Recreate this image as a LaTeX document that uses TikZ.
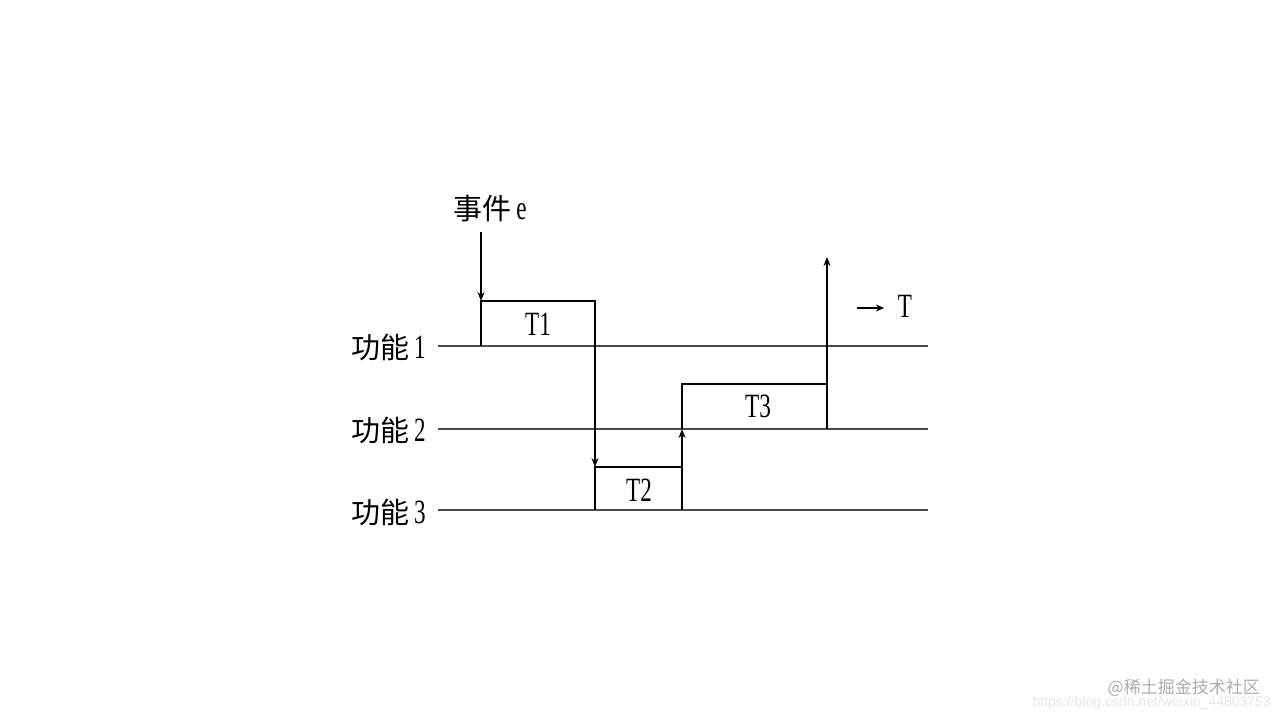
\documentclass[tikz,border=0pt]{standalone}
\usepackage{fontspec}
\usepackage{graphicx}
\setmainfont{Liberation Serif}
\newfontfamily\cjk{Noto Sans CJK SC}
\newfontfamily\wmfont{Liberation Sans}
\usetikzlibrary{arrows.meta}
\newcommand{\cond}[1]{\scalebox{0.68}[1]{#1}}
\begin{document}
\begin{tikzpicture}[x=1pt,y=-1pt,
  axisline/.style={line width=1.8pt,draw=black!70},
  boxline/.style={line width=2.8pt,draw=black},
  sig/.style={line width=1.3pt,draw=black,-{Stealth[length=9pt,width=7pt]}},
  lab/.style={font=\fontsize{29}{29}\selectfont,inner sep=0pt},
  tlab/.style={font=\fontsize{34}{34}\selectfont,inner sep=0pt}]
\useasboundingbox (0,0) rectangle (1280,720);
% baselines
\coordinate (l1s) at (438,346); \coordinate (l1e) at (928,346);
\coordinate (l2s) at (438,429); \coordinate (l2e) at (928,429);
\coordinate (l3s) at (438,510); \coordinate (l3e) at (928,510);
\draw[axisline] (l1s) -- (l1e);
\draw[axisline] (l2s) -- (l2e);
\draw[axisline] (l3s) -- (l3e);
% boxes
\coordinate (t1a) at (481,346); \coordinate (t1b) at (481,301);
\coordinate (t1c) at (595,301); \coordinate (t1d) at (595,346);
\draw[boxline] (t1a) -- (t1b) -- (t1c) -- (t1d);
\coordinate (t2a) at (595,510); \coordinate (t2b) at (595,467);
\coordinate (t2c) at (682,467); \coordinate (t2d) at (682,510);
\draw[boxline] (t2a) -- (t2b) -- (t2c) -- (t2d);
\coordinate (t3a) at (682,429); \coordinate (t3b) at (682,384);
\coordinate (t3c) at (827,384); \coordinate (t3d) at (827,429);
\draw[boxline] (t3a) -- (t3b) -- (t3c) -- (t3d);
% box labels
\node[tlab] (T1) at (538,324) {\cond{T1}};
\node[tlab] (T2) at (639,490) {\cond{T2}};
\node[tlab] (T3) at (758,406) {\cond{T3}};
% row labels
\node[lab,anchor=east] (f1) at (426,347) {{\cjk 功能}\,\cond{\fontsize{34}{34}\selectfont 1}};
\node[lab,anchor=east] (f2) at (426,430) {{\cjk 功能}\,\cond{\fontsize{34}{34}\selectfont 2}};
\node[lab,anchor=east] (f3) at (426,512) {{\cjk 功能}\,\cond{\fontsize{34}{34}\selectfont 3}};
% event
\node[lab] (ev) at (490,209) {{\cjk 事件}\,\cond{\fontsize{34}{34}\selectfont e}};
\coordinate (evs) at (481,232);
\draw[sig] (evs) -- (t1b);
% signal arrows
\draw[sig] (t1d) -- (t2b);
\draw[sig] (t2c) -- (t3a);
\coordinate (out) at (827,257);
\draw[sig] (t3c) -- (out);
% time arrow
\coordinate (ta) at (857,308); \coordinate (tb) at (884,308);
\draw[line width=1.3pt,-{Stealth[length=8pt,width=7pt]}] (ta) -- (tb);
\node[tlab] (T) at (905,306) {\cond{T}};
% watermark
\node[font=\wmfont\fontsize{14}{14}\selectfont,text=black!10,anchor=east,inner sep=0pt] (wm1) at (1271,703) {https://blog.csdn.net/weixin\_44803753};
\node[font=\cjk\fontsize{17}{17}\selectfont,text=black!33,anchor=east,inner sep=0pt] (wm2) at (1260,688) {@稀土掘金技术社区};
\end{tikzpicture}
\end{document}
